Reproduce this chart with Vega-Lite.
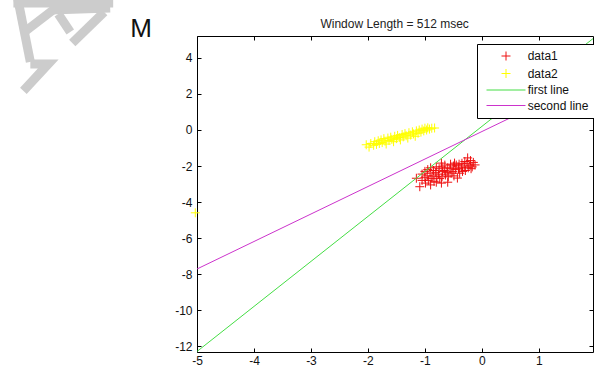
{
  "$schema": "https://vega.github.io/schema/vega-lite/v6.json",
  "width": 396,
  "height": 316,
  "autosize": {"type": "none"},
  "padding": {"left": 197, "top": 36, "right": 1, "bottom": 16},
  "background": "white",
  "config": {
    "view": {"stroke": "#000000", "strokeWidth": 1},
    "axis": {"domainColor": "#000000", "tickColor": "#000000", "labelColor": "#111111", "labelFont": "Liberation Sans", "labelFontSize": 12, "grid": false, "title": null, "tickSize": -4, "labelFlush": false, "labelExpr": "'' + datum.value"}
  },
  "datasets": {
    "logo": [
      {"part": "a", "i": 0, "x": -8.152, "y": 7.39},
      {"part": "a", "i": 1, "x": -7.925, "y": 3.78},
      {"part": "b", "i": 0, "x": -7.925, "y": 3.67},
      {"part": "b", "i": 1, "x": -7.609, "y": 3.67},
      {"part": "b", "i": 2, "x": -8.047, "y": 2.17},
      {"part": "c", "i": 0, "x": -8.03, "y": 5.44},
      {"part": "c", "i": 1, "x": -7.504, "y": 6.72},
      {"part": "d1", "i": 0, "x": -7.574, "y": 6.66},
      {"part": "d1", "i": 1, "x": -6.524, "y": 6.77},
      {"part": "d2", "i": 0, "x": -6.629, "y": 6.55},
      {"part": "d2", "i": 1, "x": -7.189, "y": 4.83},
      {"part": "d3", "i": 0, "x": -7.434, "y": 6.44},
      {"part": "d3", "i": 1, "x": -7.224, "y": 5.44},
      {"part": "e", "i": 0, "x": -8.222, "y": 7.05},
      {"part": "e", "i": 1, "x": -6.471, "y": 7.05}
    ],
    "lines": [
      {"series": "first line", "x": -5, "y": -12.3},
      {"series": "first line", "x": 1.95, "y": 5.075},
      {"series": "second line", "x": -5, "y": -7.72},
      {"series": "second line", "x": 1.95, "y": 2.89}
    ],
    "points": [
      {"series": "data1", "x": -1.15, "y": -2.68},
      {"series": "data1", "x": -1.09, "y": -3.15},
      {"series": "data1", "x": -1.05, "y": -2.45},
      {"series": "data1", "x": -1.05, "y": -2.80},
      {"series": "data1", "x": -1.00, "y": -2.30},
      {"series": "data1", "x": -1.00, "y": -2.65},
      {"series": "data1", "x": -0.99, "y": -2.95},
      {"series": "data1", "x": -0.95, "y": -2.20},
      {"series": "data1", "x": -0.96, "y": -2.55},
      {"series": "data1", "x": -0.94, "y": -2.80},
      {"series": "data1", "x": -0.90, "y": -2.10},
      {"series": "data1", "x": -0.91, "y": -2.40},
      {"series": "data1", "x": -0.89, "y": -2.70},
      {"series": "data1", "x": -0.90, "y": -3.05},
      {"series": "data1", "x": -0.85, "y": -2.25},
      {"series": "data1", "x": -0.86, "y": -2.55},
      {"series": "data1", "x": -0.84, "y": -2.85},
      {"series": "data1", "x": -0.80, "y": -2.05},
      {"series": "data1", "x": -0.81, "y": -2.35},
      {"series": "data1", "x": -0.79, "y": -2.60},
      {"series": "data1", "x": -0.80, "y": -2.90},
      {"series": "data1", "x": -0.75, "y": -2.15},
      {"series": "data1", "x": -0.76, "y": -2.45},
      {"series": "data1", "x": -0.74, "y": -2.70},
      {"series": "data1", "x": -0.71, "y": -1.84},
      {"series": "data1", "x": -0.70, "y": -2.05},
      {"series": "data1", "x": -0.69, "y": -2.30},
      {"series": "data1", "x": -0.70, "y": -2.60},
      {"series": "data1", "x": -0.71, "y": -2.95},
      {"series": "data1", "x": -0.65, "y": -1.95},
      {"series": "data1", "x": -0.66, "y": -2.25},
      {"series": "data1", "x": -0.64, "y": -2.50},
      {"series": "data1", "x": -0.60, "y": -2.10},
      {"series": "data1", "x": -0.61, "y": -2.35},
      {"series": "data1", "x": -0.59, "y": -2.60},
      {"series": "data1", "x": -0.60, "y": -2.90},
      {"series": "data1", "x": -0.55, "y": -1.90},
      {"series": "data1", "x": -0.56, "y": -2.15},
      {"series": "data1", "x": -0.54, "y": -2.40},
      {"series": "data1", "x": -0.50, "y": -2.00},
      {"series": "data1", "x": -0.48, "y": -1.84},
      {"series": "data1", "x": -0.51, "y": -2.30},
      {"series": "data1", "x": -0.49, "y": -2.55},
      {"series": "data1", "x": -0.45, "y": -1.95},
      {"series": "data1", "x": -0.46, "y": -2.20},
      {"series": "data1", "x": -0.43, "y": -2.67},
      {"series": "data1", "x": -0.40, "y": -1.90},
      {"series": "data1", "x": -0.41, "y": -2.15},
      {"series": "data1", "x": -0.39, "y": -2.40},
      {"series": "data1", "x": -0.35, "y": -1.85},
      {"series": "data1", "x": -0.36, "y": -2.10},
      {"series": "data1", "x": -0.34, "y": -2.30},
      {"series": "data1", "x": -0.30, "y": -1.75},
      {"series": "data1", "x": -0.31, "y": -2.00},
      {"series": "data1", "x": -0.29, "y": -2.25},
      {"series": "data1", "x": -0.25, "y": -1.55},
      {"series": "data1", "x": -0.26, "y": -1.85},
      {"series": "data1", "x": -0.24, "y": -2.10},
      {"series": "data1", "x": -0.20, "y": -1.70},
      {"series": "data1", "x": -0.21, "y": -1.95},
      {"series": "data1", "x": -0.19, "y": -2.15},
      {"series": "data1", "x": -0.15, "y": -1.80},
      {"series": "data1", "x": -0.12, "y": -1.94},
      {"series": "data1", "x": -0.17, "y": -2.05},
      {"series": "data2", "x": -5.03, "y": -4.6},
      {"series": "data2", "x": -2.03, "y": -0.82},
      {"series": "data2", "x": -1.98, "y": -0.95},
      {"series": "data2", "x": -1.95, "y": -0.75},
      {"series": "data2", "x": -1.90, "y": -0.85},
      {"series": "data2", "x": -1.88, "y": -0.65},
      {"series": "data2", "x": -1.85, "y": -0.80},
      {"series": "data2", "x": -1.82, "y": -0.60},
      {"series": "data2", "x": -1.80, "y": -0.75},
      {"series": "data2", "x": -1.77, "y": -0.55},
      {"series": "data2", "x": -1.75, "y": -0.70},
      {"series": "data2", "x": -1.72, "y": -0.48},
      {"series": "data2", "x": -1.70, "y": -0.62},
      {"series": "data2", "x": -1.68, "y": -0.78},
      {"series": "data2", "x": -1.65, "y": -0.45},
      {"series": "data2", "x": -1.63, "y": -0.58},
      {"series": "data2", "x": -1.60, "y": -0.40},
      {"series": "data2", "x": -1.58, "y": -0.52},
      {"series": "data2", "x": -1.55, "y": -0.65},
      {"series": "data2", "x": -1.53, "y": -0.35},
      {"series": "data2", "x": -1.50, "y": -0.48},
      {"series": "data2", "x": -1.48, "y": -0.30},
      {"series": "data2", "x": -1.45, "y": -0.42},
      {"series": "data2", "x": -1.43, "y": -0.55},
      {"series": "data2", "x": -1.40, "y": -0.25},
      {"series": "data2", "x": -1.38, "y": -0.38},
      {"series": "data2", "x": -1.35, "y": -0.20},
      {"series": "data2", "x": -1.33, "y": -0.32},
      {"series": "data2", "x": -1.30, "y": -0.45},
      {"series": "data2", "x": -1.28, "y": -0.15},
      {"series": "data2", "x": -1.25, "y": -0.28},
      {"series": "data2", "x": -1.22, "y": -0.10},
      {"series": "data2", "x": -1.20, "y": -0.22},
      {"series": "data2", "x": -1.17, "y": -0.35},
      {"series": "data2", "x": -1.15, "y": -0.05},
      {"series": "data2", "x": -1.12, "y": -0.18},
      {"series": "data2", "x": -1.10, "y": 0.00},
      {"series": "data2", "x": -1.07, "y": -0.12},
      {"series": "data2", "x": -1.05, "y": 0.05},
      {"series": "data2", "x": -1.02, "y": -0.05},
      {"series": "data2", "x": -1.00, "y": 0.10},
      {"series": "data2", "x": -0.97, "y": 0.00},
      {"series": "data2", "x": -0.95, "y": 0.12},
      {"series": "data2", "x": -0.92, "y": 0.05},
      {"series": "data2", "x": -0.88, "y": 0.10},
      {"series": "data2", "x": -0.83, "y": 0.11}
    ],
    "mark_label": [
      {"text": "M", "x": -5.98, "y": 5.17}
    ],
    "title_label": [
      {"text": "Window Length = 512 msec", "x": -1.532, "y": 5.66}
    ]
  },
  "resolve": {"axis": {"x": "independent", "y": "independent"}},
  "layer": [
    {
      "data": {"name": "logo"},
      "mark": {"type": "line", "clip": false, "strokeWidth": 9, "color": "#cccccc", "strokeCap": "butt", "strokeJoin": "miter"},
      "encoding": {
        "x": {"field": "x", "type": "quantitative", "scale": {"domain": [-5, 1.95], "nice": false, "zero": false}, "axis": null},
        "y": {"field": "y", "type": "quantitative", "scale": {"domain": [-12.33, 5.22], "nice": false, "zero": false}, "axis": null},
        "detail": {"field": "part", "type": "nominal"},
        "order": {"field": "i", "type": "quantitative"}
      }
    },
    {
      "data": {"name": "points"},
      "mark": {"type": "point", "clip": false, "filled": false, "strokeWidth": 1, "size": 81, "opacity": 1},
      "encoding": {
        "x": {"field": "x", "type": "quantitative", "scale": {"domain": [-5, 1.95], "nice": false, "zero": false}, "axis": {"orient": "bottom", "values": [-5, -4, -3, -2, -1, 0, 1], "tickSize": -4, "labelPadding": 7, "labelFlush": false, "domain": false}},
        "y": {"field": "y", "type": "quantitative", "scale": {"domain": [-12.33, 5.22], "nice": false, "zero": false}, "axis": {"orient": "left", "values": [-12, -10, -8, -6, -4, -2, 0, 2, 4], "tickSize": -4, "labelPadding": 9, "labelFlush": false, "domain": false}},
        "color": {"field": "series", "type": "nominal", "scale": {"domain": ["data1", "data2", "first line", "second line"], "range": ["#ee1111", "#ffff00", "#44dd44", "#cc33cc"]},
          "legend": {"orient": "none", "legendX": 280, "legendY": 8, "title": null, "strokeColor": "#000000", "fillColor": "#ffffff", "padding": 6, "labelFont": "Liberation Sans", "labelFontSize": 12, "labelColor": "#111111", "labelLimit": 300, "symbolSize": 81, "symbolStrokeWidth": 1, "symbolOffset": 17, "labelOffset": 15.7, "rowPadding": 3.5}},
        "shape": {"field": "series", "type": "nominal", "scale": {"domain": ["data1", "data2", "first line", "second line"], "range": ["M-1,0H1M0,-1V1", "M-1,0H1M0,-1V1", "M-4.33,0H4.33", "M-4.33,0H4.33"]},
          "legend": {"orient": "none", "legendX": 280, "legendY": 8, "title": null, "strokeColor": "#000000", "fillColor": "#ffffff", "padding": 6, "labelFont": "Liberation Sans", "labelFontSize": 12, "labelColor": "#111111", "labelLimit": 300, "symbolSize": 81, "symbolStrokeWidth": 1, "symbolOffset": 17, "labelOffset": 15.7, "rowPadding": 3.5}}
      }
    },
    {
      "data": {"name": "lines"},
      "mark": {"type": "line", "strokeWidth": 1, "clip": true},
      "encoding": {
        "x": {"field": "x", "type": "quantitative", "scale": {"domain": [-5, 1.95], "nice": false, "zero": false}, "axis": {"orient": "top", "values": [-5, -4, -3, -2, -1, 0, 1], "labels": false, "tickSize": -4, "domain": false}},
        "y": {"field": "y", "type": "quantitative", "scale": {"domain": [-12.33, 5.22], "nice": false, "zero": false}, "axis": {"orient": "right", "values": [-12, -10, -8, -6, -4, -2, 0, 2, 4], "labels": false, "tickSize": -4, "domain": false}},
        "color": {"field": "series", "type": "nominal", "scale": {"domain": ["data1", "data2", "first line", "second line"], "range": ["#ee1111", "#ffff00", "#44dd44", "#cc33cc"]},
          "legend": {"orient": "none", "legendX": 280, "legendY": 8, "title": null, "strokeColor": "#000000", "fillColor": "#ffffff", "padding": 6, "labelFont": "Liberation Sans", "labelFontSize": 12, "labelColor": "#111111", "labelLimit": 300, "symbolSize": 81, "symbolStrokeWidth": 1, "symbolOffset": 17, "labelOffset": 15.7, "rowPadding": 3.5}}
      }
    },
    {
      "data": {"name": "mark_label"},
      "mark": {"type": "text", "font": "Liberation Sans", "fontSize": 26, "color": "#111111", "align": "center", "baseline": "alphabetic"},
      "encoding": {
        "x": {"field": "x", "type": "quantitative", "scale": {"domain": [-5, 1.95], "nice": false, "zero": false}, "axis": null},
        "y": {"field": "y", "type": "quantitative", "scale": {"domain": [-12.33, 5.22], "nice": false, "zero": false}, "axis": null},
        "text": {"field": "text", "type": "nominal"}
      }
    },
    {
      "data": {"name": "title_label"},
      "mark": {"type": "text", "font": "Liberation Sans", "fontSize": 12, "color": "#222222", "align": "center", "baseline": "alphabetic"},
      "encoding": {
        "x": {"field": "x", "type": "quantitative", "scale": {"domain": [-5, 1.95], "nice": false, "zero": false}, "axis": null},
        "y": {"field": "y", "type": "quantitative", "scale": {"domain": [-12.33, 5.22], "nice": false, "zero": false}, "axis": null},
        "text": {"field": "text", "type": "nominal"}
      }
    }
  ]
}
